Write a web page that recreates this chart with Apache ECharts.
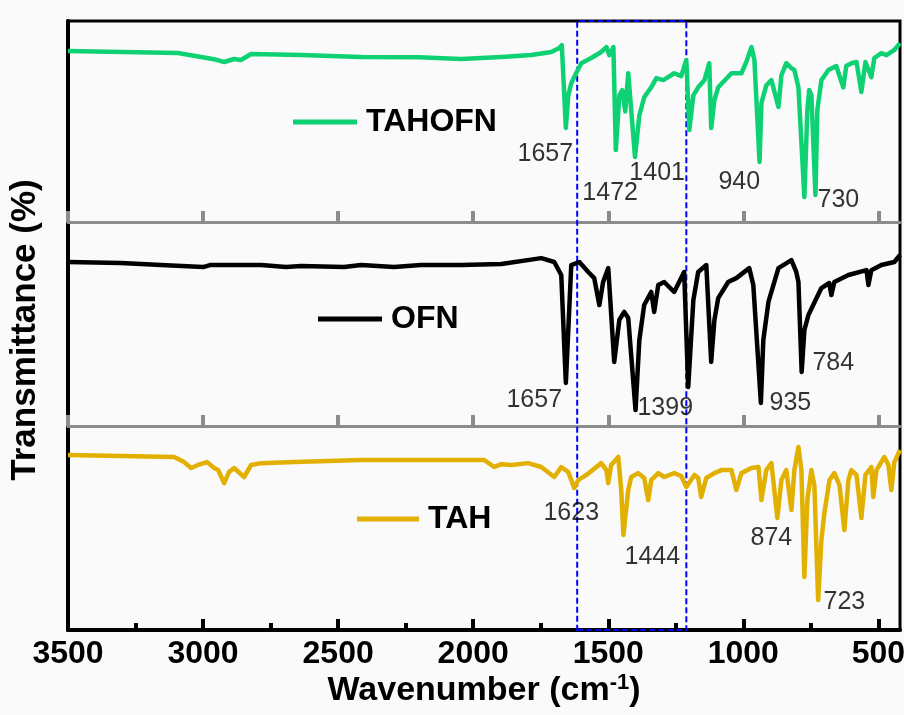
<!DOCTYPE html>
<html><head><meta charset="utf-8">
<script src="https://cdn.jsdelivr.net/npm/echarts@6/dist/echarts.min.js"></script>
<style>html,body{margin:0;padding:0;background:#fafafa}#c{width:904px;height:715px}</style>
</head><body><div id="c"></div>
<script>
// ---- data ----
const WN_MIN = 420, WN_MAX = 3500;
const MAJOR_TICKS = [3500, 3000, 2500, 2000, 1500, 1000, 500];
const MINOR_TICKS = [3250, 2750, 2250, 1750, 1250, 750];
const SERIES_NAMES = ['TAHOFN', 'OFN', 'TAH'];
const BOX = [1615, 1211];

const TAHOFN = [[3500,85.1],[3300,84.6],[3093,84.1],[3007,82.1],[2960,81],[2922,79.6],[2885,81.1],[2860,80.6],[2822,83.6],[2637,83.1],[2415,82.1],[2200,82],[2044,81.1],[1896,82.1],[1785,83.1],[1711,84.6],[1681,86.6],[1672,88],[1657,46.8],[1648,63],[1637,69],[1619,74],[1600,79],[1563,81.6],[1526,84.6],[1507,87],[1496,83],[1481,87],[1472,35.8],[1459,63],[1448,65.6],[1437,55],[1426,74],[1401,32.3],[1385,53],[1367,62],[1341,67],[1322,71.6],[1296,70.6],[1256,74],[1230,72.6],[1211,80.6],[1200,45.8],[1185,63],[1167,67],[1144,70.6],[1126,79],[1119,46.8],[1107,60.7],[1093,67],[1044,74],[1007,74],[989,79.6],[970,87],[959,80.6],[940,29.9],[933,59.2],[915,68],[896,70.6],[870,57.2],[859,73],[841,79],[822,76.6],[811,75.6],[796,67],[774,12.4],[763,55.7],[756,65.7],[748,63],[733,13.4],[726,55.7],[711,70.6],[685,75.6],[656,77.6],[630,67],[619,77.6],[600,79],[581,79.6],[563,64.7],[548,79.6],[526,72],[515,81.6],[489,84],[470,83],[441,85.6],[420,89]];

const OFN = [[3500,80.4],[3304,79.9],[3156,78.9],[3000,77.9],[2974,78.9],[2785,78.9],[2693,77.9],[2637,78.4],[2478,77.9],[2415,78.9],[2293,77.9],[2193,78.9],[2044,78.9],[1896,79.4],[1748,82.3],[1700,80.4],[1674,74],[1657,21.1],[1648,47],[1637,78.9],[1607,80.4],[1574,75.5],[1552,72.5],[1533,59.3],[1519,70.6],[1500,77.4],[1478,31.4],[1459,52],[1441,55.9],[1426,52.9],[1399,7.8],[1385,42.1],[1367,59.3],[1341,65.7],[1330,55.9],[1315,69.1],[1293,70.6],[1256,65.7],[1219,75.5],[1204,19.1],[1185,61.7],[1167,75.5],[1137,78.9],[1119,31.4],[1107,52],[1093,62.7],[1056,70.6],[1026,72.5],[978,77.4],[963,69.1],[935,11.3],[926,42.1],[907,60.8],[870,77.4],[822,81.3],[804,75.5],[796,70.6],[784,26.5],[774,47],[759,54.4],[711,67.6],[682,70.1],[674,64.2],[663,70.6],[611,74],[544,76.4],[537,69.1],[526,76.4],[489,78.9],[441,80.4],[420,83.8]];

const TAH = [[3500,85.8],[3107,84.8],[3070,82.3],[3044,79.4],[3019,80.9],[2985,82.3],[2959,79.4],[2944,78.4],[2922,72],[2904,77.4],[2885,79.4],[2848,75],[2822,80.9],[2785,81.8],[2663,82.3],[2415,83.3],[2193,83.3],[1959,83.3],[1922,79.9],[1896,81.3],[1859,80.9],[1796,81.8],[1748,79.9],[1700,75],[1674,79.9],[1648,77.4],[1626,69.6],[1611,73.5],[1581,76],[1526,81.8],[1507,78.4],[1500,72],[1489,80.9],[1463,84.8],[1452,68.6],[1444,46.6],[1426,68.6],[1415,75],[1389,76.9],[1367,74.5],[1352,63.7],[1341,73.5],[1315,76.9],[1293,75],[1256,76.9],[1230,75.5],[1211,70.1],[1181,76],[1167,74.5],[1156,65.2],[1137,74.5],[1107,76.9],[1081,78.4],[1044,78.4],[1026,68.6],[1007,76.9],[970,79.4],[944,79.9],[933,63.7],[915,78.4],[896,81.8],[874,54.9],[859,73.5],[841,78.4],[822,58.8],[811,78.4],[796,89.7],[785,78.4],[774,26],[763,63.7],[748,78.4],[737,71],[723,14.7],[711,44.1],[700,57.3],[681,73.5],[663,76.9],[644,71],[626,49],[611,73.5],[600,78.4],[581,76],[563,54.9],[548,76],[526,79.9],[519,65.2],[507,78.4],[478,84.8],[463,80.9],[452,68.6],[441,82.3],[420,88.2]];

const TAHOFN_PEAKS = [['1657',1733,33.8],['1472',1493,14.4],['1401',1319,24.4],['940',1015,19.9],['730',648,10.9]];
const OFN_PEAKS = [['1657',1774,12.7],['1399',1289,8.8],['935',826,11.3],['784',667,30.9]];
const TAH_PEAKS = [['1623',1637,57.3],['1444',1337,35.8],['874',896,45.1],['723',626,13.7]];

// ---- layout / style ----
const FONT = 'Arial, "Liberation Sans", sans-serif';
const COLORS = ['#0ed173', '#000000', '#e2b000'];
const L = 68, W = 832;
const PANELS = [{top:21,h:201},{top:222,h:204},{top:426,h:204}];
const LEGEND_POS = [{left:293, top:106, w:64},{left:318, top:303, w:64},{left:357, top:503, w:62}];
const DATA = [TAHOFN, OFN, TAH];
const PEAKS = [TAHOFN_PEAKS, OFN_PEAKS, TAH_PEAKS];

const grid = PANELS.map(p => ({left:L, width:W, top:p.top, height:p.h, containLabel:false, outerBoundsMode:'none'}));
grid.push({left:L, width:W, top:21, height:609, show:true, borderColor:'#000', borderWidth:3,
  backgroundColor:'transparent', containLabel:false, outerBoundsMode:'none'});

const xAxis = PANELS.map((p, i) => {
  const c = i < 2 ? '#8c8c8c' : '#000';
  const ax = {
    gridIndex:i, type:'value', min:WN_MIN, max:WN_MAX, inverse:true, position:'bottom',
    splitLine:{show:false},
    axisLine:{show:true, onZero:false, lineStyle:{color:c, width: i < 2 ? 3 : 4}},
    axisTick:{show:true, inside:true, length:11, customValues:MAJOR_TICKS, lineStyle:{color:c, width:4}},
    axisLabel:{show:i === 2, customValues:MAJOR_TICKS, formatter: v => String(v),
      fontSize:32, fontWeight:'bold', color:'#000', fontFamily:FONT, margin:8}
  };
  if (i === 2) {
    ax.name = '{a|Wavenumber (cm}{s|-1}{a|)}';
    ax.nameLocation = 'middle';
    ax.nameGap = 42;
    ax.nameTextStyle = {fontSize:34, fontWeight:'bold', color:'#000', fontFamily:FONT,
      rich:{a:{fontSize:34, fontWeight:'bold', color:'#000', fontFamily:FONT, lineHeight:38},
            s:{fontSize:22, fontWeight:'bold', color:'#000', fontFamily:FONT, verticalAlign:'top', lineHeight:22}}};
  }
  return ax;
});
xAxis.push({gridIndex:2, type:'value', min:WN_MIN, max:WN_MAX, inverse:true, position:'bottom',
  splitLine:{show:false}, axisLine:{show:false},
  axisTick:{show:true, inside:true, length:7, customValues:MINOR_TICKS, lineStyle:{color:'#000', width:4}},
  axisLabel:{show:false}});
xAxis.push({gridIndex:3, type:'value', min:WN_MIN, max:WN_MAX, inverse:true, show:false});

const yAxis = PANELS.map((p, i) => {
  const ax = {gridIndex:i, type:'value', min:0, max:100,
    axisLine:{show:true, lineStyle:{color:'#000', width:4}},
    axisTick:{show:false}, axisLabel:{show:false}, splitLine:{show:false}};
  if (i === 1) {
    ax.name = 'Transmittance (%)';
    ax.nameLocation = 'middle';
    ax.nameGap = 25;
    ax.nameTextStyle = {fontSize:35, fontWeight:'bold', color:'#000', fontFamily:FONT, padding:[0,12,0,0]};
  }
  return ax;
});
yAxis.push({gridIndex:3, type:'value', min:0, max:100, show:false});

const legend = SERIES_NAMES.map((n, i) => ({
  data:[n], left:LEGEND_POS[i].left, top:LEGEND_POS[i].top, icon:'rect',
  itemWidth:LEGEND_POS[i].w, itemHeight:5, padding:0, selectedMode:false,
  textStyle:{fontSize:32, fontWeight:'bold', color:'#000', fontFamily:FONT, padding:[0,0,0,4]}
}));

const series = [];
SERIES_NAMES.forEach((n, i) => {
  series.push({type:'line', name:n, xAxisIndex:i, yAxisIndex:i, data:DATA[i],
    showSymbol:false, symbol:'none', silent:true,
    lineStyle:{width:4.5, color:COLORS[i], join:'round'}, itemStyle:{color:COLORS[i]}, z:3});
  series.push({type:'scatter', name:n + '_peaks', xAxisIndex:i, yAxisIndex:i, symbolSize:1, silent:true,
    itemStyle:{color:'transparent'},
    data:PEAKS[i].map(p => ({name:p[0], value:[p[1], p[2]]})),
    label:{show:true, position:'inside', formatter:'{b}', fontSize:25, color:'#000', fontFamily:FONT}, z:5});
});
series.push({type:'line', name:'box', xAxisIndex:4, yAxisIndex:3, data:[], z:10,
  markArea:{silent:true, itemStyle:{color:'rgba(0,0,0,0)', borderColor:'#0000ff', borderWidth:2, borderType:[6,3]},
    data:[[{xAxis:BOX[0], yAxis:0},{xAxis:BOX[1], yAxis:100}]]}});

const chart = echarts.init(document.getElementById('c'), null, {renderer:'canvas'});
chart.setOption({backgroundColor:'#fafafa', animation:false, grid, xAxis, yAxis, legend, series});
</script>
</body></html>
